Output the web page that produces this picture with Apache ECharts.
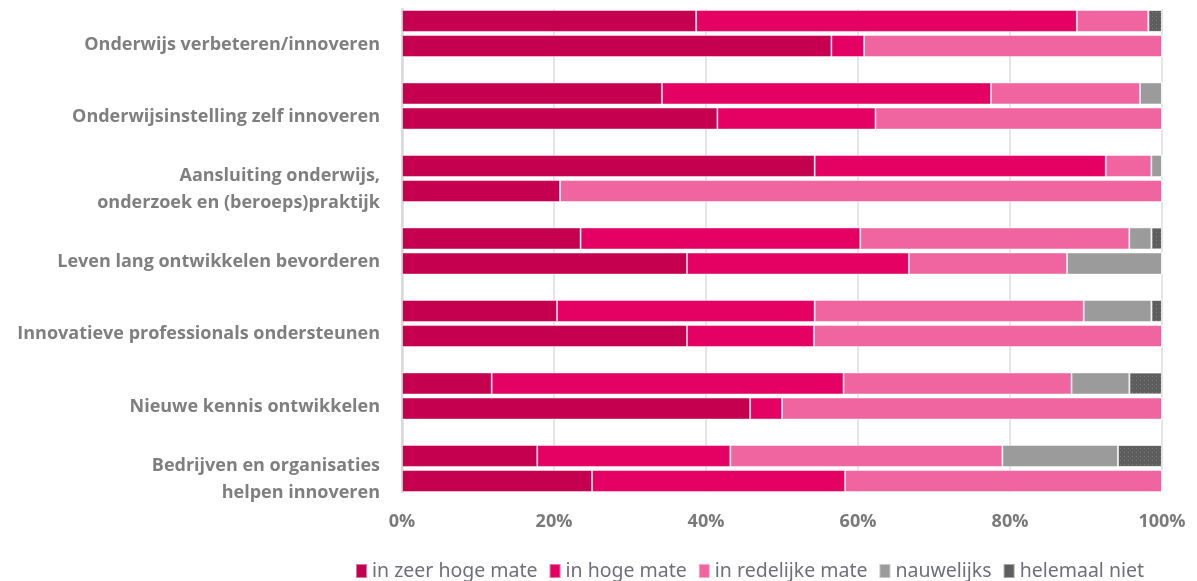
<!DOCTYPE html>
<html>
<head>
<meta charset="utf-8">
<script src="https://cdn.jsdelivr.net/npm/echarts@6/dist/echarts.min.js"></script>
<style>
html,body{margin:0;padding:0;background:#fff;}
#chart{width:1197px;height:581px;}
</style>
</head>
<body>
<div id="chart"></div>
<script>
const categories = [
  'Onderwijs verbeteren/innoveren',
  'Onderwijsinstelling zelf innoveren',
  'Aansluiting onderwijs,\nonderzoek en (beroeps)praktijk',
  'Leven lang ontwikkelen bevorderen',
  'Innovatieve professionals ondersteunen',
  'Nieuwe kennis ontwikkelen',
  'Bedrijven en organisaties\nhelpen innoveren'
];
const seriesNames = ['in zeer hoge mate', 'in hoge mate', 'in redelijke mate', 'nauwelijks', 'helemaal niet'];
const xTicks = [0, 20, 40, 60, 80, 100];

// upper bar of each category
const topZeerHoge   = [38.7, 34.2, 54.3, 23.5, 20.4, 11.8, 17.8];
const topHoge       = [50.1, 43.3, 38.3, 36.8, 33.9, 46.3, 25.4];
const topRedelijk   = [9.4, 19.6, 6.0, 35.4, 35.4, 30.0, 35.8];
const topNauwelijks = [0, 2.9, 1.4, 2.9, 8.9, 7.6, 15.2];
const topNiet       = [1.8, 0, 0, 1.4, 1.4, 4.3, 5.8];

// lower bar of each category
const botZeerHoge   = [56.5, 41.5, 20.8, 37.5, 37.5, 45.8, 25.0];
const botHoge       = [4.3, 20.8, 0, 29.2, 16.7, 4.2, 33.3];
const botRedelijk   = [39.2, 37.7, 79.2, 20.8, 45.8, 50.0, 41.7];
const botNauwelijks = [0, 0, 0, 12.5, 0, 0, 0];
const botNiet       = [0, 0, 0, 0, 0, 0, 0];

const colors = ['#C4004F', '#E50063', '#F065A0', '#9B9B9B', '#5E5E5E'];
const topData = [topZeerHoge, topHoge, topRedelijk, topNauwelijks, topNiet];
const botData = [botZeerHoge, botHoge, botRedelijk, botNauwelijks, botNiet];

const labelFont = '"Open Sans", "Noto Sans", sans-serif';

function mkSeries(data, stack, i) {
  const s = {
    name: seriesNames[i],
    type: 'bar',
    stack: stack,
    data: data,
    barWidth: 22,
    barGap: '14%',
    xAxisIndex: 0,
    yAxisIndex: 0,
    itemStyle: {
      color: colors[i],
      borderColor: 'rgba(255,255,255,0.45)',
      borderWidth: 1
    },
    emphasis: { disabled: true },
    animation: false
  };
  if (i === 4) {
    s.itemStyle.decal = {
      symbol: 'rect',
      symbolSize: 1,
      dashArrayX: [1, 3],
      dashArrayY: [1, 3],
      color: 'rgba(150,150,150,0.55)'
    };
  }
  return s;
}

const series = [];
for (let i = 0; i < 5; i++) series.push(mkSeries(topData[i], 'top', i));
for (let i = 0; i < 5; i++) series.push(mkSeries(botData[i], 'bot', i));

const chart = echarts.init(document.getElementById('chart'), null, { renderer: 'canvas' });
chart.setOption({
  backgroundColor: '#fff',
  animation: false,
  color: colors,
  legend: {
    data: seriesNames.map((n, i) => ({ name: n, itemStyle: { color: colors[i], decal: 'none' } })),
    left: 355,
    top: 561,
    padding: 0,
    itemWidth: 11,
    itemHeight: 14,
    itemGap: 11,
    icon: 'rect',
    selectedMode: false,
    textStyle: { color: '#6f6f7a', fontSize: 19.5, fontFamily: '"Noto Sans", sans-serif', lineHeight: 20 }
  },
  grid: [
    { left: 402, right: 35, top: 33.5, height: 435, containLabel: false },
    { left: 402, right: 35, top: 9, height: 483, containLabel: false },
    { left: 402, right: 35, top: 45, height: 434, containLabel: false }
  ],
  xAxis: [
    {
      gridIndex: 0,
      type: 'value',
      min: 0, max: 100, interval: 20,
      axisLine: { show: false },
      axisTick: { show: false },
      splitLine: { show: false },
      axisLabel: { show: false }
    },
    {
      gridIndex: 1,
      type: 'value',
      min: 0, max: 100, interval: 20,
      axisLine: { show: false },
      axisTick: { show: false },
      axisLabel: {
        formatter: v => (xTicks.indexOf(v) >= 0 ? v + '%' : ''),
        color: '#7a7a7a',
        fontSize: 18,
        fontWeight: 'bold',
        fontFamily: labelFont,
        margin: 21
      },
      splitLine: { show: true, lineStyle: { color: '#dcdcdc', width: 1.5 } }
    },
    {
      gridIndex: 2,
      type: 'value',
      min: 0, max: 100,
      show: false
    }
  ],
  yAxis: [
    {
      gridIndex: 0,
      type: 'category',
      data: categories,
      inverse: true,
      boundaryGap: false,
      axisTick: { show: false },
      axisLine: { show: false },
      axisLabel: { show: false },
      splitLine: { show: false }
    },
    {
      gridIndex: 1,
      type: 'category',
      data: categories,
      inverse: true,
      axisTick: { show: false },
      axisLabel: { show: false },
      axisLine: { show: true, lineStyle: { color: '#d9d9d9', width: 2.5 } }
    },
    {
      gridIndex: 2,
      type: 'category',
      data: categories,
      inverse: true,
      boundaryGap: false,
      axisTick: { show: false },
      axisLine: { show: false },
      splitLine: { show: false },
      axisLabel: {
        color: '#7f7f7f',
        fontSize: 18,
        fontWeight: 'bold',
        fontFamily: labelFont,
        margin: 22,
        lineHeight: 27,
        align: 'right'
      }
    }
  ],
  series: series
});
</script>
</body>
</html>
